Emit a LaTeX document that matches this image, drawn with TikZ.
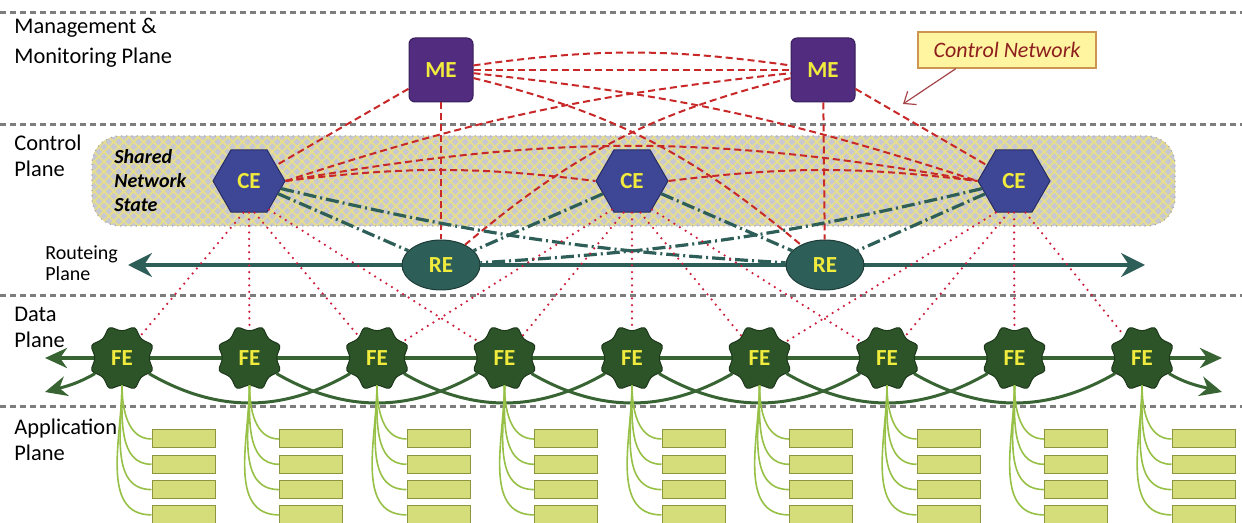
\documentclass[tikz,border=0pt]{standalone}
\usepackage{fontspec}
\setmainfont{Carlito}
\usetikzlibrary{shapes.geometric,arrows.meta,patterns.meta}
\definecolor{sepgray}{RGB}{125,125,125}
\definecolor{mepurple}{RGB}{82,44,126}
\definecolor{meborder}{RGB}{55,30,90}
\definecolor{ceblue}{RGB}{62,70,150}
\definecolor{ceborder}{RGB}{40,45,100}
\definecolor{reteal}{RGB}{46,94,88}
\definecolor{reborder}{RGB}{30,60,55}
\definecolor{fegreen}{RGB}{45,84,40}
\definecolor{feborder}{RGB}{28,55,26}
\definecolor{datagreen}{RGB}{55,100,50}
\definecolor{elabel}{RGB}{240,235,60}
\definecolor{appfill}{RGB}{213,221,122}
\definecolor{appborder}{RGB}{140,150,65}
\definecolor{appgreen}{RGB}{150,192,70}
\definecolor{ctrlred}{RGB}{200,40,40}
\definecolor{dotred}{RGB}{205,30,60}
\definecolor{regiongray}{RGB}{200,200,210}
\definecolor{hatchyellow}{RGB}{230,222,140}
\definecolor{regionedge}{RGB}{165,165,175}
\definecolor{cnfill}{RGB}{255,244,160}
\definecolor{cnborder}{RGB}{205,150,80}
\definecolor{cntext}{RGB}{140,30,30}
\definecolor{cnarrow}{RGB}{165,70,75}
\tikzstyle{plane} = [anchor=west, align=left, inner sep=0pt, font={\fontsize{11.2}{13}\selectfont}]
\tikzstyle{smallplane} = [plane, font={\fontsize{10}{10.5}\selectfont}]
\tikzstyle{statelabel} = [anchor=west, align=left, inner sep=0pt, font={\bfseries\itshape\fontsize{10}{12}\selectfont}]
\tikzstyle{sep} = [draw=sepgray, line width=1.5pt, dash pattern=on 3pt off 2pt]
\tikzstyle{sharedstate} = [rounded corners=14pt, fill=regiongray,
  postaction={pattern={Lines[angle=45,distance=3.5pt,line width=0.9pt]}, pattern color=hatchyellow},
  postaction={pattern={Lines[angle=-45,distance=3.5pt,line width=0.9pt]}, pattern color=hatchyellow},
  postaction={draw=regionedge, dotted, line width=0.6pt}]
\tikzstyle{elem} = [inner sep=0pt, text=elabel, font={\bfseries\fontsize{11.5}{13}\selectfont}, line width=0.5pt]
\tikzstyle{me} = [elem, draw=meborder, fill=mepurple, rounded corners=3pt, minimum size=32pt]
\tikzstyle{ce} = [elem, regular polygon, regular polygon sides=6, minimum size=36pt, draw=ceborder, fill=ceblue]
\tikzstyle{re} = [elem, ellipse, minimum width=39pt, minimum height=25pt, draw=reborder, fill=reteal]
\tikzstyle{fe} = [elem, star, star points=8, star point ratio=1.28, shape border rotate=22.5, minimum size=34pt, rounded corners=1.8pt, draw=feborder, fill=fegreen]
\tikzstyle{appbox} = [draw=appborder, fill=appfill, minimum width=31.5pt, minimum height=9pt, inner sep=0pt, line width=0.5pt]
\tikzstyle{appline} = [draw=appgreen, line width=0.8pt]
\tikzstyle{ctrlnet} = [draw=ctrlred, line width=1pt, dash pattern=on 3.5pt off 2pt]
\tikzstyle{routenet} = [draw=reteal, line width=1.6pt, dash pattern=on 6.5pt off 2pt on 1pt off 2pt]
\tikzstyle{fwdlink} = [draw=dotred, line width=1.25pt, line cap=round, dash pattern=on 0pt off 3.3pt]
\tikzstyle{routebus} = [draw=reteal, line width=1.6pt, >={Stealth[length=12pt,width=12pt,inset=4pt]}, <->]
\tikzstyle{databus} = [draw=datagreen, line width=2pt, >={Stealth[length=11pt,width=10pt,inset=3.5pt]}, <->]
\tikzstyle{dataarc} = [draw=datagreen, line width=1.5pt, >={Stealth[length=11pt,width=10pt,inset=3.5pt]}]
\tikzstyle{ctrlbox} = [draw=cnborder, fill=cnfill, minimum width=89pt, minimum height=18pt, inner sep=0pt, line width=0.6pt, text=cntext, font={\itshape\fontsize{11}{13}\selectfont}]
\tikzstyle{cnpointer} = [draw=cnarrow, line width=0.6pt, -{Straight Barb[length=5pt,width=8pt]}]
\begin{document}
\begin{tikzpicture}[x=0.5pt,y=0.5pt]
  \useasboundingbox (0,0) rectangle (1242,-523);
  % control plane area
  \path[sharedstate] (92,-136) rectangle (1175,-226);
  \node[statelabel](state) at (114,-181){Shared\\Network\\State};
  % plane separators
  \draw[sep] (0,-13) -- (1242,-13);
  \draw[sep] (0,-125) -- (1242,-125);
  \draw[sep] (0,-296) -- (1242,-296);
  \draw[sep] (0,-407) -- (1242,-407);
  \node[plane,font={\fontsize{11.2}{15}\selectfont}](mmp) at (14,-43){Management \&\\Monitoring Plane};
  \node[plane](cp) at (14,-156){Control\\Plane};
  \node[smallplane](rp) at (45,-263){Routeing\\Plane};
  \node[plane](dp) at (14,-327){Data\\Plane};
  \node[plane](ap) at (14,-440){Application\\Plane};
  % buses
  \coordinate (rl) at (128,-265);
  \coordinate (rr) at (1145,-265);
  \draw[routebus] (rl) -- (rr);
  \coordinate (dl) at (45,-358);
  \coordinate (dr) at (1222,-358);
  \draw[databus] (dl) -- (dr);
  % elements
  \node[me](me1) at (441,-70){ME};
  \node[me](me2) at (823,-70){ME};
  \node[ce](ce1) at (249,-181){CE};
  \node[ce](ce2) at (632,-181){CE};
  \node[ce](ce3) at (1014,-181){CE};
  \node[re](re1) at (441,-265){RE};
  \node[re](re2) at (825,-265){RE};
  \foreach \i in {1,...,9}
    \node[fe](fe\i) at ({122+127.5*(\i-1)},-358){FE};
  \node[ctrlbox](cn) at (1007,-50){Control Network};
  \coordinate (cnend) at (903,-104);
  \draw[cnpointer] (cn.-160) -- (cnend);
  % control network
  \draw[ctrlnet] (me1) -- (ce1);
  \draw[ctrlnet] (me1) to[bend left=8] (me2);
  \draw[ctrlnet] (me1) -- (me2);
  \draw[ctrlnet] (me1) to[bend left=6] (ce3.west);
  \draw[ctrlnet] (ce1.east) to[bend left=6] (me2);
  \draw[ctrlnet] (me2) -- (ce3);
  \draw[ctrlnet] (me1) to[bend left=13] (re2);
  \draw[ctrlnet] (me2) to[bend right=13] (re1);
  \draw[ctrlnet] (me1) -- (re1);
  \draw[ctrlnet] (me2) -- (re2);
  \draw[ctrlnet] (ce1.east) to[bend left=7] (ce2.west);
  \draw[ctrlnet] (ce2.east) to[bend left=7] (ce3.west);
  \draw[ctrlnet] (ce1.east) to[bend left=10] (ce3.west);
  % CE to RE
  \draw[routenet] (ce1) -- (re1);
  \draw[routenet] (ce1) to[bend right=5] (re2);
  \draw[routenet] (ce2) -- (re1);
  \draw[routenet] (ce2) -- (re2);
  \draw[routenet] (ce3) to[bend left=5] (re1);
  \draw[routenet] (ce3) -- (re2);
  % CE to FE
  \draw[fwdlink] (ce1.-100) -- (fe1);
  \draw[fwdlink] (ce1.south) -- (fe2);
  \draw[fwdlink] (ce1.-80) -- (fe3);
  \draw[fwdlink] (ce1.-55) -- (fe4);
  \draw[fwdlink] (ce2.-125) -- (fe3);
  \draw[fwdlink] (ce2.-105) -- (fe4);
  \draw[fwdlink] (ce2.south) -- (fe5);
  \draw[fwdlink] (ce2.-75) -- (fe6);
  \draw[fwdlink] (ce2.-55) -- (fe7);
  \draw[fwdlink] (ce3.-120) -- (fe6);
  \draw[fwdlink] (ce3.-100) -- (fe7);
  \draw[fwdlink] (ce3.south) -- (fe8);
  \draw[fwdlink] (ce3.-70) -- (fe9);
  % FE to FE
  \foreach \a/\b in {1/3,2/4,3/5,4/6,5/7,6/8,7/9}
    \draw[dataarc] (fe\a) to[out=-30,in=-150] (fe\b);
  \coordinate (dll) at (45,-392);
  \coordinate (drl) at (1222,-392);
  \draw[dataarc,->] (fe1) to[out=-150,in=15] (dll);
  \draw[dataarc,->] (fe9) to[out=-30,in=165] (drl);
  % applications
  \foreach \i in {1,...,9}
    \foreach \j in {1,...,4} {
      \node[appbox](app\i\j) at ({183.5+127.5*(\i-1)},{-439-25.3*(\j-1)}){};
      \draw[appline] (fe\i.-90) to[out=-90,in=180] (app\i\j.west);
    }
\end{tikzpicture}
\end{document}
